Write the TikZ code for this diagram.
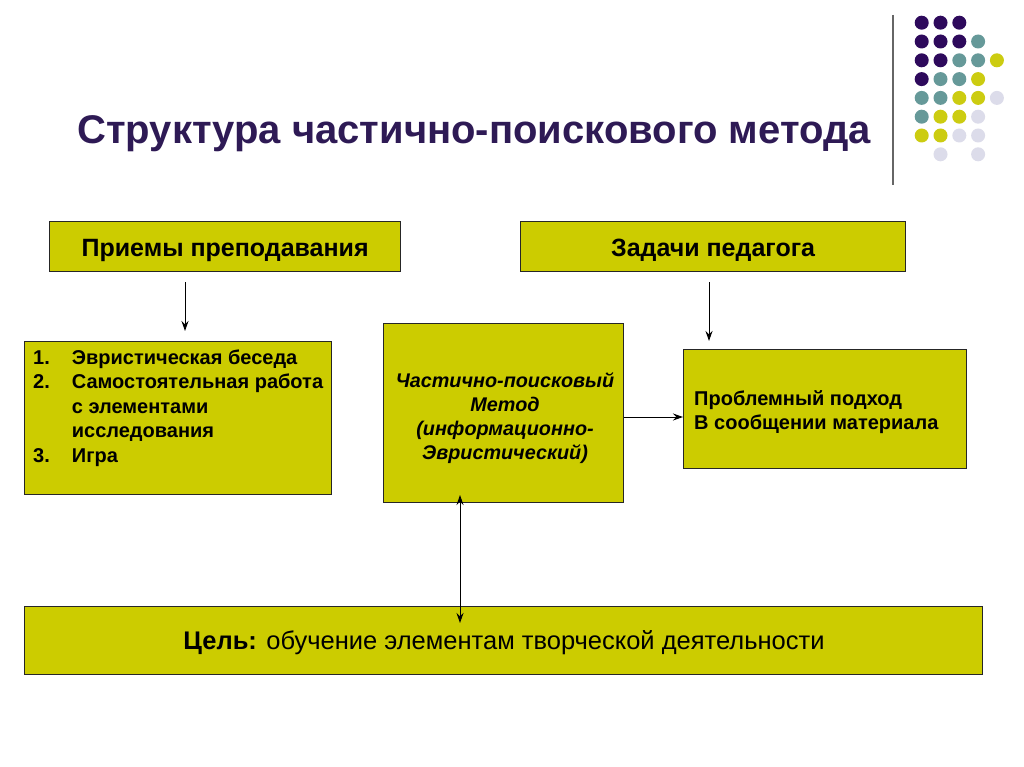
\documentclass[tikz,border=0pt]{standalone}
\usepackage{fontspec}
\setmainfont{Liberation Sans}
\usetikzlibrary{arrows.meta,calc}
\definecolor{boxfill}{HTML}{CCCC00}
\definecolor{titlecol}{HTML}{2E1A55}
\definecolor{dpurple}{HTML}{2E0A5C}
\definecolor{dteal}{HTML}{669999}
\definecolor{dyellow}{HTML}{CCCC11}
\definecolor{dlav}{HTML}{DCDCEA}
\tikzset{
  box/.style={draw=black!85, line width=1.2pt, fill=boxfill, inner sep=0pt, anchor=north west},
  headbox/.style={box, minimum height=50pt, font=\fontsize{25}{28}\selectfont\bfseries, text height=24pt, text depth=5pt},
  arr/.style={-{Stealth[length=10pt,width=7pt]}, line width=1pt},
  darr/.style={{Stealth[length=10pt,width=7pt]}-{Stealth[length=10pt,width=7pt]}, line width=1pt},
  dot/.style={circle, inner sep=0pt, minimum size=14pt}
}
\begin{document}
\begin{tikzpicture}[x=1pt,y=-1pt]
\useasboundingbox (0,0) rectangle (1024,767);
\fill[white] (0,0) rectangle (1024,767);
% title
\node[font=\fontsize{40}{46}\selectfont\bfseries, text=titlecol] (title) at (474,134) {Структура частично-поискового метода};
% decorative line and dots
\draw[line width=1.2pt, black!60] (893,15) coordinate (vl1) -- (893,185) coordinate (vl2);
\foreach \c/\r/\col in {1/1/dpurple,2/1/dpurple,3/1/dpurple,
  1/2/dpurple,2/2/dpurple,3/2/dpurple,4/2/dteal,
  1/3/dpurple,2/3/dpurple,3/3/dteal,4/3/dteal,5/3/dyellow,
  1/4/dpurple,2/4/dteal,3/4/dteal,4/4/dyellow,
  1/5/dteal,2/5/dteal,3/5/dyellow,4/5/dyellow,5/5/dlav,
  1/6/dteal,2/6/dyellow,3/6/dyellow,4/6/dlav,
  1/7/dyellow,2/7/dyellow,3/7/dlav,4/7/dlav,
  2/8/dlav,4/8/dlav}
  \node[dot, fill=\col] (d\c\r) at ({921.7+18.8*(\c-1)},{22.7+18.8*(\r-1)}) {};
% boxes
\node[headbox, minimum width=351pt] (priem) at (49,221) {Приемы преподавания};
\node[headbox, minimum width=385pt] (zadachi) at (520,221) {Задачи педагога};
\node[box, minimum width=307pt, minimum height=153pt] (list) at (24,341) {};
\node[anchor=north west, inner sep=0pt, font=\fontsize{20}{24.5}\selectfont\bfseries] (listtxt) at (33,347)
 {\begin{tabular}{@{}l@{\hspace{22pt}}l@{}}
 1. & Эвристическая беседа\\
 2. & Самостоятельная работа\\
    & с элементами\\
    & исследования\\
 3. & Игра
 \end{tabular}};
\node[box, minimum width=240pt, minimum height=179pt] (center) at (383,323) {};
\node[align=center, inner sep=0pt, font=\fontsize{19.8}{24}\selectfont\bfseries\itshape] (centertxt) at (505,418)
 {Частично-поисковый\\Метод\\(информационно-\\Эвристический)};
\node[box, minimum width=283pt, minimum height=119pt] (right) at (683,349) {};
\node[anchor=west, align=left, inner sep=0pt, font=\fontsize{20}{24}\selectfont\bfseries] (righttxt) at (694,412)
 {Проблемный подход\\В сообщении материала};
\node[box, minimum width=958pt, minimum height=68pt] (goal) at (24,606) {};
\node[font=\fontsize{25.5}{28}\selectfont] (goaltxt) at (504,643) {\textbf{Цель:} обучение элементам творческой деятельности};
% connectors
\coordinate (a1s) at (185,282); \coordinate (a1e) at (185,331);
\draw[arr] (a1s) -- (a1e);
\coordinate (a2s) at (709,282); \coordinate (a2e) at (709,341);
\draw[arr] (a2s) -- (a2e);
\draw[arr] (center.east |- 0,417) -- (right.west |- 0,417);
\coordinate (c1) at (460,495); \coordinate (c2) at (460,623);
\draw[darr] (c1) -- (c2);
\end{tikzpicture}
\end{document}
